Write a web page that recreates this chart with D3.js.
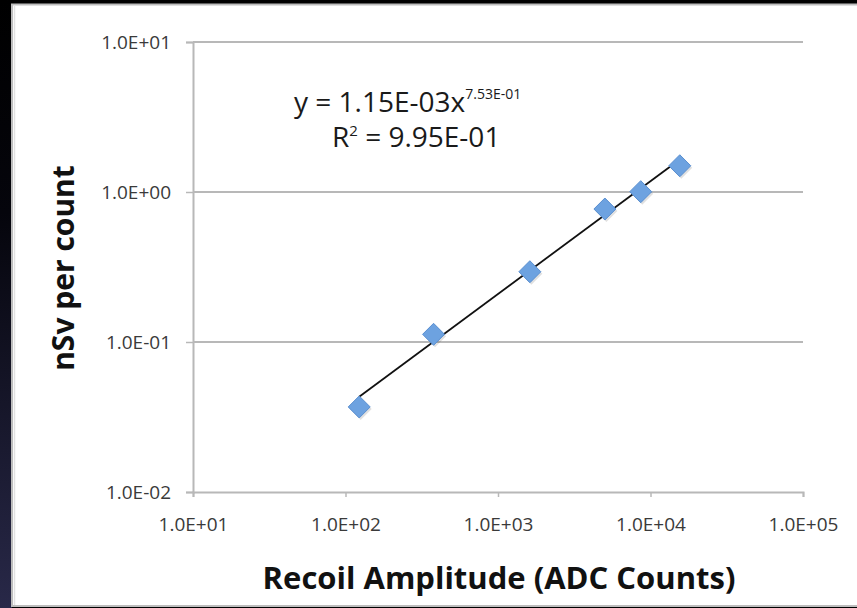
<!DOCTYPE html>
<html>
<head>
<meta charset="utf-8">
<script src="https://cdn.jsdelivr.net/npm/d3@7"></script>
<style>
  body { margin: 0; background: #000; }
  svg { display: block; }
  text { font-family: "Open Sans", "Liberation Sans", sans-serif; }
</style>
</head>
<body>
<svg id="chart" width="857" height="608"></svg>
<script>
// recoil amplitude (ADC counts) vs dose per count
const adcCounts = [123, 378, 1618, 5023, 8630, 15560];
const nsvPerCount = [0.0369, 0.1125, 0.294, 0.770, 1.005, 1.496];
const xTicks = [1e1, 1e2, 1e3, 1e4, 1e5];
const yTicks = [1e-2, 1e-1, 1e0, 1e1];
const fitCoef = 1.15e-3;
const fitExp = 0.753;

function main(){
    let svg = d3.select("#chart");

    // backdrop: dark slide edge + white panel
    let defs = svg.append("defs");
    let grad = defs.append("linearGradient").attr("id", "edge")
        .attr("x1", 0).attr("y1", 0).attr("x2", 0).attr("y2", 1);
    grad.append("stop").attr("offset", "0%").attr("stop-color", "#000");
    grad.append("stop").attr("offset", "35%").attr("stop-color", "#05050c");
    grad.append("stop").attr("offset", "100%").attr("stop-color", "#282848");
    svg.append("rect").attr("x", 0).attr("y", 0).attr("width", 857).attr("height", 608).attr("fill", "#000");
    svg.append("rect").attr("x", 0).attr("y", 0).attr("width", 12).attr("height", 608).attr("fill", "url(#edge)");
    svg.append("rect").attr("x", 12).attr("y", 4.5).attr("width", 850).attr("height", 601.5)
        .attr("fill", "#fff").attr("stroke", "#bdbdbd").attr("stroke-width", 2);
    svg.append("line").attr("x1", 14.5).attr("x2", 14.5).attr("y1", 5).attr("y2", 605)
        .attr("stroke", "#e2e2e2").attr("stroke-width", 1.5);

    let x = d3.scaleLog().domain([1e1, 1e5]).range([193, 803]);
    let y = d3.scaleLog().domain([1e-2, 1e1]).range([492, 42]);

    function fmt(d){
        let e = Math.round(Math.log10(d));
        return "1.0E" + (e < 0 ? "-" : "+") + String(Math.abs(e)).padStart(2, "0");
    }

    // horizontal gridlines
    svg.append("g").selectAll("line")
        .data(yTicks.filter(d => d > 1e-2))
        .enter().append("line")
        .attr("x1", x(1e1)).attr("x2", x(1e5))
        .attr("y1", d => y(d)).attr("y2", d => y(d))
        .attr("stroke", "#b8b8b8").attr("stroke-width", 2);

    // axes
    let xAxis = svg.append("g")
        .attr("transform", "translate(0," + y(1e-2) + ")")
        .call(d3.axisBottom(x).tickValues(xTicks).tickFormat(fmt).tickSize(5).tickPadding(21));
    let yAxis = svg.append("g")
        .attr("transform", "translate(" + x(1e1) + ",0)")
        .call(d3.axisLeft(y).tickValues(yTicks).tickFormat(fmt).tickSize(7).tickPadding(15));
    [xAxis, yAxis].forEach(function(a){
        a.select(".domain").attr("stroke", "#b8b8b8").attr("stroke-width", 2);
        a.selectAll(".tick line").attr("stroke", "#b8b8b8").attr("stroke-width", 1.5);
        a.selectAll(".tick text").attr("fill", "#3a3a3a")
            .style("font-size", "19px").style("font-family", "'Open Sans', sans-serif");
    });

    // power trendline
    let x0 = d3.min(adcCounts), x1 = d3.max(adcCounts);
    svg.append("line")
        .attr("x1", x(x0)).attr("y1", y(fitCoef * Math.pow(x0, fitExp)))
        .attr("x2", x(x1)).attr("y2", y(fitCoef * Math.pow(x1, fitExp)))
        .attr("stroke", "#111").attr("stroke-width", 1.8);

    // diamond markers
    let pts = adcCounts.map((v, i) => ({x: v, y: nsvPerCount[i]}));
    let diamond = "M0,-11L11,0L0,11L-11,0Z";
    svg.append("g").selectAll("path.shadow")
        .data(pts).enter().append("path").attr("class", "shadow")
        .attr("d", diamond)
        .attr("transform", d => "translate(" + (x(d.x) + 1.5) + "," + (y(d.y) + 2) + ")")
        .attr("fill", "#000").attr("opacity", 0.12);
    svg.append("g").selectAll("path.pt")
        .data(pts).enter().append("path").attr("class", "pt")
        .attr("d", diamond)
        .attr("transform", d => "translate(" + x(d.x) + "," + y(d.y) + ")")
        .attr("fill", "#6da2e0").attr("stroke", "#5a8fd0").attr("stroke-width", 1);

    // trendline equation
    let eq = svg.append("text").attr("x", 294).attr("y", 112)
        .attr("fill", "#1a1a1a").style("font-size", "28px");
    eq.append("tspan").text("y = 1.15E-03x");
    eq.append("tspan").attr("dy", -13).style("font-size", "14px").text("7.53E-01");
    let r2 = svg.append("text").attr("x", 332).attr("y", 147)
        .attr("fill", "#1a1a1a").style("font-size", "28px");
    r2.append("tspan").text("R");
    r2.append("tspan").attr("dy", -11).style("font-size", "15px").text("2");
    r2.append("tspan").attr("dy", 11).text(" = 9.95E-01");

    // axis titles
    svg.append("text").attr("x", 499).attr("y", 589)
        .attr("text-anchor", "middle").attr("fill", "#111")
        .style("font-size", "31px").style("font-weight", "bold")
        .text("Recoil Amplitude (ADC Counts)");
    svg.append("text")
        .attr("transform", "translate(74,268) rotate(-90)")
        .attr("text-anchor", "middle").attr("fill", "#111")
        .style("font-size", "30px").style("font-weight", "bold")
        .text("nSv per count");
}

main();
</script>
</body>
</html>
